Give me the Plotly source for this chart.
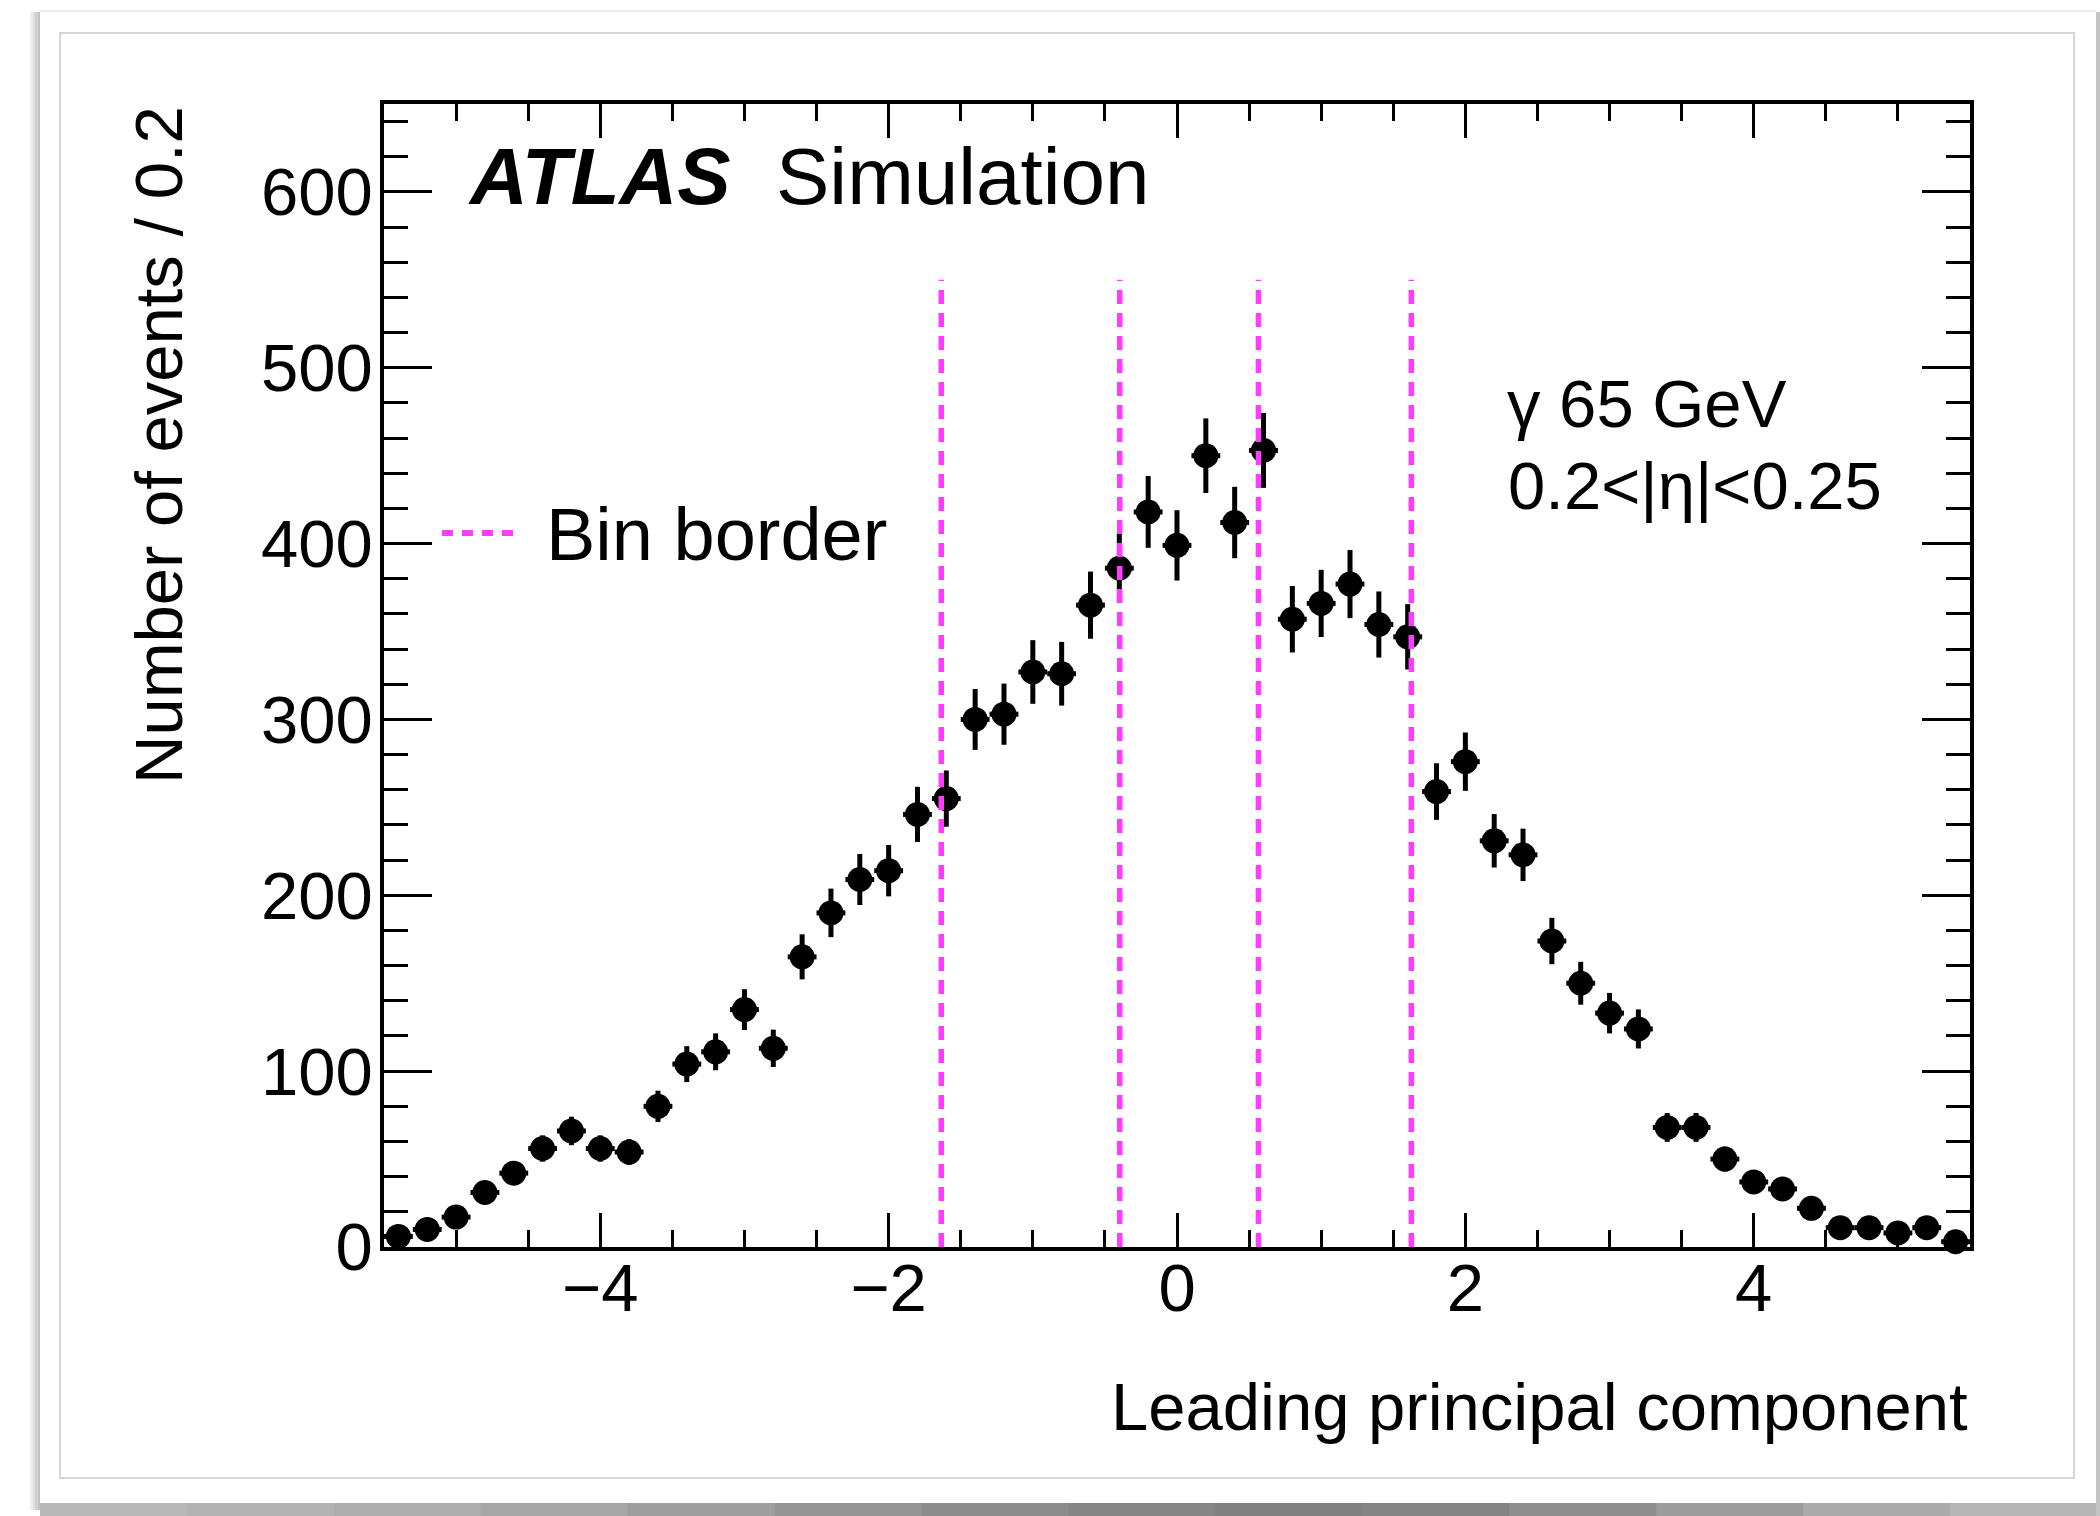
import plotly.graph_objects as go

# ---------------- data ----------------
bin_centers = [-5.4, -5.2, -5.0, -4.8, -4.6, -4.4, -4.2, -4.0, -3.8, -3.6, -3.4,
               -3.2, -3.0, -2.8, -2.6, -2.4, -2.2, -2.0, -1.8, -1.6, -1.4, -1.2,
               -1.0, -0.8, -0.6, -0.4, -0.2, 0.0, 0.2, 0.4, 0.6, 0.8, 1.0, 1.2,
               1.4, 1.6, 1.8, 2.0, 2.2, 2.4, 2.6, 2.8, 3.0, 3.2, 3.4, 3.6, 3.8,
               4.0, 4.2, 4.4, 4.6, 4.8, 5.0, 5.2, 5.4]
counts = [6, 10, 17, 31, 42, 56, 66, 56, 54, 80, 104,
          111, 135, 113, 165, 190, 209, 214, 246, 255, 300, 303,
          327, 326, 365, 386, 418, 399, 450, 412, 453, 357, 366, 377,
          354, 347, 259, 276, 231, 223, 174, 150, 133, 124, 68, 68, 50,
          37, 33, 22, 11, 11, 8, 11, 3]
count_errors = [2.4, 3.2, 4.1, 5.6, 6.5, 7.5, 8.1, 7.5, 7.3, 8.9, 10.2,
                10.5, 11.6, 10.6, 12.8, 13.8, 14.5, 14.6, 15.7, 16.0, 17.3, 17.4,
                18.1, 18.1, 19.1, 19.6, 20.4, 20.0, 21.2, 20.3, 21.3, 18.9, 19.1, 19.4,
                18.8, 18.6, 16.1, 16.6, 15.2, 14.9, 13.2, 12.2, 11.5, 11.1, 8.2, 8.2, 7.1,
                6.1, 5.7, 4.7, 3.3, 3.3, 2.8, 3.3, 1.7]
half_bin_width = 0.1
bin_borders = [-1.635, -0.397, 0.565, 1.625]
border_top = 550

x_label = "Leading principal component"
y_label = "Number of events / 0.2"

# ---------------- geometry helpers (page pixels -> paper) ----------------
W, H = 2100, 1516
L, R, T, B = 384, 1970, 104, 1247
PW, PH = R - L, B - T


def px(x):
    return (x - L) / PW


def py(y):
    return (B - y) / PH


FONT = "Liberation Sans, Arial, Helvetica, sans-serif"
MAGENTA = "#ff3cff"

fig = go.Figure()

fig.add_trace(go.Scatter(
    x=bin_centers, y=counts, mode="markers",
    marker=dict(color="black", size=25, symbol="circle"),
    error_y=dict(type="data", array=count_errors, color="black",
                 thickness=5, width=0),
    error_x=dict(type="constant", value=half_bin_width, color="black",
                 thickness=5, width=0),
    showlegend=False, cliponaxis=False,
))

shapes = []
# bin border lines
for xb in bin_borders:
    shapes.append(dict(type="line", xref="x", yref="y", x0=xb, x1=xb,
                       y0=0, y1=border_top,
                       line=dict(color=MAGENTA, width=5.5, dash="14px,9px"),
                       layer="above"))
# legend sample line
shapes.append(dict(type="line", xref="paper", yref="paper",
                   x0=px(442), x1=px(518), y0=py(533), y1=py(533),
                   line=dict(color=MAGENTA, width=6, dash="11px,9px")))

# card decoration (page frame + shadow)
shapes.append(dict(type="rect", xref="paper", yref="paper",
                   x0=px(60), x1=px(2074), y0=py(33), y1=py(1478),
                   line=dict(color="#d6d6d6", width=2), layer="below"))
for i, c in enumerate(["#f0f0f0", "#e0e0e0", "#cfcfcf", "#c2c2c2"]):
    shapes.append(dict(type="rect", xref="paper", yref="paper",
                       x0=px(30 + 2.5 * i), x1=px(32.5 + 2.5 * i),
                       y0=py(12), y1=py(1510),
                       line=dict(width=0), fillcolor=c, layer="below"))
shadow_cols = ["#b8b8b8", "#b3b3b3", "#adadad", "#a6a6a6", "#9e9e9e", "#959595",
               "#8c8c8c", "#858585", "#808080", "#848484", "#8e8e8e", "#9c9c9c",
               "#aaaaaa", "#b6b6b6"]
seg = (2097 - 40) / len(shadow_cols)
for i, c in enumerate(shadow_cols):
    shapes.append(dict(type="rect", xref="paper", yref="paper",
                       x0=px(40 + i * seg), x1=px(40 + (i + 1) * seg + 1),
                       y0=py(1503), y1=py(1516),
                       line=dict(width=0), fillcolor=c, layer="below"))
shapes.append(dict(type="rect", xref="paper", yref="paper",
                   x0=px(2096), x1=px(2100), y0=py(12), y1=py(1516),
                   line=dict(width=0), fillcolor="#c4c4c4", layer="below"))
shapes.append(dict(type="line", xref="paper", yref="paper",
                   x0=px(40), x1=px(2096), y0=py(11), y1=py(11),
                   line=dict(color="#ececec", width=2), layer="below"))

annotations = [
    dict(text="<b><i>ATLAS</i></b>", x=px(466), y=py(176), xref="paper", yref="paper",
         xanchor="left", yanchor="middle", showarrow=False,
         font=dict(family=FONT, size=80, color="black")),
    dict(text="Simulation", x=px(774), y=py(176), xref="paper", yref="paper",
         xanchor="left", yanchor="middle", showarrow=False,
         font=dict(family=FONT, size=80, color="black")),
    dict(text="γ 65 GeV", x=px(1505), y=py(403), xref="paper", yref="paper",
         xanchor="left", yanchor="middle", showarrow=False,
         font=dict(family=FONT, size=67, color="black")),
    dict(text="0.2<|η|<0.25", x=px(1506), y=py(486), xref="paper", yref="paper",
         xanchor="left", yanchor="middle", showarrow=False,
         font=dict(family=FONT, size=67, color="black")),
    dict(text="Bin border", x=px(544), y=py(534), xref="paper", yref="paper",
         xanchor="left", yanchor="middle", showarrow=False,
         font=dict(family=FONT, size=74, color="black")),
    dict(text=x_label, x=1.0, y=py(1406), xref="paper", yref="paper",
         xanchor="right", yanchor="middle", showarrow=False,
         font=dict(family=FONT, size=67, color="black")),
    dict(text=y_label, x=px(158), y=py(445), xref="paper", yref="paper",
         xanchor="center", yanchor="middle", showarrow=False, textangle=-90,
         font=dict(family=FONT, size=67, color="black")),
]

axis_common = dict(showline=True, linecolor="black", linewidth=3.5,
                   mirror="allticks", ticks="inside", tickcolor="black",
                   tickwidth=3, showgrid=False, zeroline=False,
                   tickfont=dict(family=FONT, size=67, color="black"))

fig.update_layout(
    width=W, height=H,
    margin=dict(l=L, r=W - R, t=T, b=H - B, pad=0),
    paper_bgcolor="white", plot_bgcolor="white",
    xaxis=dict(range=[-5.5, 5.5], tick0=0, dtick=2, ticklen=34,
               minor=dict(dtick=0.5, tick0=0, ticklen=17, tickwidth=3,
                          ticks="inside", tickcolor="black"),
               ticklabelstandoff=-20, **axis_common),
    yaxis=dict(range=[0, 650], tick0=0, dtick=100, ticklen=48,
               minor=dict(dtick=20, tick0=0, ticklen=24, tickwidth=3,
                          ticks="inside", tickcolor="black"),
               ticklabelstandoff=-6, **axis_common),
    shapes=shapes, annotations=annotations, showlegend=False,
)

fig.write_html("out.html")
